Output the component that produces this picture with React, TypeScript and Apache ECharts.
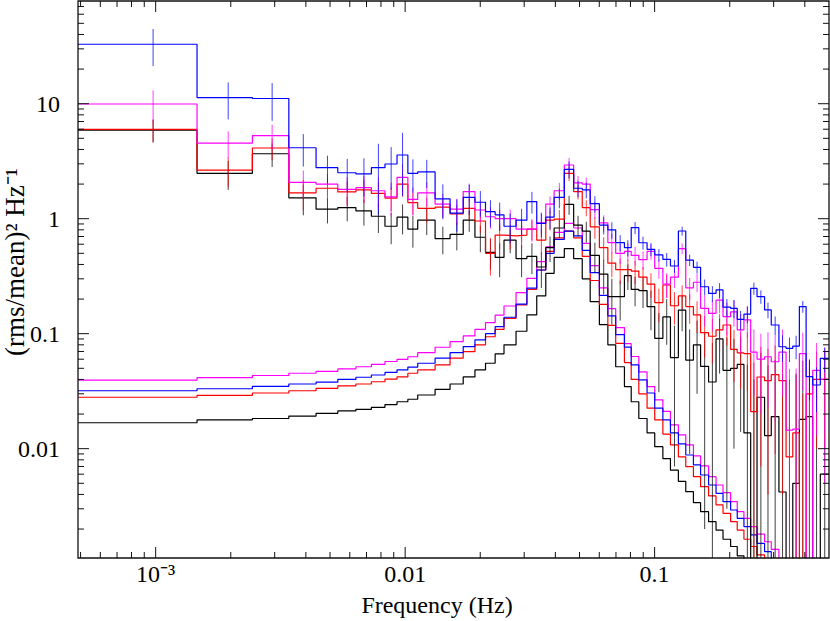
import React, { useEffect, useRef } from 'react';
import * as echarts from 'echarts';

// Frequency bin edges in units of the Fourier resolution (1/1024 Hz)
const binEdgesDf = [
  0.5, 1.5, 2.5, 3.5, 4.5, 5.5, 6.5, 7.5, 8.5, 9.5, 10.5, 11.5, 13.5, 15.5, 17.5, 19.5, 21.5, 23.5, 25.5,
  28.5, 31.5, 34.5, 37.5, 40.5, 44.5, 48.5, 52.5, 56.5, 61.5, 66.5, 71.5, 77.5, 82.5, 88.5, 95.5, 102.5,
  110.5, 118.5, 127.5, 136.5, 146.5, 156.5, 168.5, 180.5, 192.5, 206.5, 219.5, 233.5, 248.5, 263.5, 282.5,
  300.5, 322.5, 344.5, 366.5, 389.5, 414.5, 440.5, 472.5, 512,
];
const FREQ_RES = 1 / 1024;

// Power per bin ((rms/mean)^2 / Hz); 1e-6 marks bins with no positive power
const bluePower = [32.9, 11.3, 11.1, 4.14, 2.78, 2.51, 2.45, 2.78, 2.99, 3.58, 2.48, 2.55, 1.49, 1.12, 1.53, 1.39, 1.15, 1.08, 0.86, 0.97, 1.41, 0.91, 1.03, 1.53, 2.69, 1.84, 1.78, 1.35, 0.88, 0.80, 0.62, 0.56, 0.835, 0.618, 0.542, 0.484, 0.443, 0.388, 0.782, 0.437, 0.378, 0.256, 0.224, 0.24, 0.17, 0.166, 0.133, 0.148, 0.248, 0.21, 0.161, 0.119, 0.077, 0.0746, 0.078, 0.172, 0.0423, 0.0358, 0.061];
const blueErr = [11.7, 4.0, 4.0, 1.3, 0.75, 0.8, 0.9, 1.7, 1.2, 2.0, 0.8, 0.7, 0.5, 0.35, 0.45, 0.35, 0.3, 0.3, 0.25, 0.25, 0.3, 0.22, 0.22, 0.3, 0.45, 0.3, 0.28, 0.22, 0.15, 0.13, 0.1, 0.09, 0.1, 0.08, 0.07, 0.06, 0.06, 0.05, 0.07, 0.05, 0.045, 0.04, 0.035, 0.035, 0.03, 0.03, 0.025, 0.025, 0.03, 0.028, 0.025, 0.022, 0.02, 0.018, 0.018, 0.02, 0.016, 0.015, 0.015];
const blueModel = [0.0319, 0.0332, 0.0348, 0.0365, 0.0379, 0.040, 0.0418, 0.0437, 0.046, 0.0484, 0.0512, 0.0553, 0.0612, 0.0685, 0.0772, 0.0883, 0.10, 0.115, 0.139, 0.181, 0.249, 0.358, 0.50, 0.66, 0.78, 0.71, 0.53, 0.34, 0.215, 0.143, 0.098, 0.0763, 0.0535, 0.0397, 0.0305, 0.0225, 0.0178, 0.0137, 0.011, 0.00881, 0.00722, 0.0059, 0.00483, 0.00409, 0.00346, 0.00293, 0.00248, 0.0021, 0.00178, 0.0015, 0.00127, 0.00108, 0.0009, 0.00076, 0.00064, 0.00054, 0.00046, 0.00039, 0.00033];

const magentaPower = [9.94, 4.55, 5.27, 2.07, 2.0, 1.8, 1.86, 1.75, 1.55, 2.29, 1.47, 1.68, 1.34, 1.21, 1.72, 1.19, 1.04, 1.0, 1.0, 0.81, 0.81, 0.92, 1.34, 1.75, 2.93, 2.05, 2.0, 1.2, 0.92, 0.62, 0.50, 0.52, 0.48, 0.44, 0.52, 0.37, 0.27, 0.31, 0.55, 0.25, 0.28, 0.166, 0.15, 0.196, 0.141, 0.155, 0.108, 0.132, 0.069, 0.06, 0.063, 0.057, 0.069, 0.0145, 0.0148, 0.067, 1e-6, 0.048, 0.04];
const magentaErr = [3.1, 1.2, 1.3, 0.55, 0.45, 0.5, 0.5, 0.55, 0.5, 0.7, 0.4, 0.4, 0.3, 0.28, 0.3, 0.25, 0.22, 0.2, 0.2, 0.18, 0.18, 0.18, 0.22, 0.3, 0.45, 0.3, 0.28, 0.2, 0.15, 0.12, 0.1, 0.09, 0.09, 0.08, 0.08, 0.07, 0.065, 0.06, 0.06, 0.055, 0.05, 0.05, 0.045, 0.045, 0.045, 0.04, 0.04, 0.04, 0.04, 0.04, 0.04, 0.04, 0.04, 0.035, 0.035, 0.035, 0.035, 0.035, 0.035];
const magentaModel = [0.0395, 0.0414, 0.0433, 0.0453, 0.0470, 0.0494, 0.0516, 0.0541, 0.0573, 0.0597, 0.063, 0.0685, 0.0762, 0.0852, 0.0957, 0.109, 0.125, 0.145, 0.174, 0.228, 0.303, 0.423, 0.57, 0.76, 0.91, 0.83, 0.61, 0.39, 0.25, 0.165, 0.113, 0.082, 0.0633, 0.0465, 0.0347, 0.0266, 0.0211, 0.0161, 0.0132, 0.0108, 0.00865, 0.00708, 0.00571, 0.00483, 0.00414, 0.00346, 0.00283, 0.00248, 0.0021, 0.00181, 0.00155, 0.00133, 0.00108, 0.0009, 0.00076, 0.00064, 0.00054, 0.00046, 0.00038];

const redPower = [5.99, 2.65, 4.12, 1.68, 1.84, 1.71, 1.78, 1.66, 1.51, 2.0, 1.38, 1.23, 1.26, 1.10, 1.23, 0.955, 0.5, 0.72, 0.71, 0.72, 0.81, 0.65, 0.97, 0.99, 2.48, 1.72, 1.25, 0.85, 0.56, 0.41, 0.36, 0.36, 0.35, 0.31, 0.27, 0.186, 0.265, 0.175, 0.213, 0.172, 0.146, 0.102, 0.095, 0.108, 0.119, 0.073, 0.068, 0.067, 0.021, 0.042, 0.039, 0.044, 0.039, 0.0085, 0.0137, 1e-6, 0.03, 0.04, 0.04];
const redErr = [1.35, 0.75, 0.9, 0.5, 0.4, 0.4, 0.4, 0.4, 0.35, 0.45, 0.3, 0.3, 0.25, 0.22, 0.25, 0.2, 0.18, 0.18, 0.17, 0.16, 0.16, 0.16, 0.18, 0.2, 0.35, 0.25, 0.2, 0.18, 0.13, 0.1, 0.09, 0.08, 0.08, 0.07, 0.065, 0.06, 0.06, 0.055, 0.05, 0.05, 0.045, 0.04, 0.04, 0.04, 0.04, 0.035, 0.035, 0.035, 0.035, 0.035, 0.035, 0.035, 0.035, 0.03, 0.03, 0.03, 0.03, 0.03, 0.03];
const redModel = [0.028, 0.0291, 0.0305, 0.0319, 0.0335, 0.0352, 0.0365, 0.0382, 0.0403, 0.0421, 0.0453, 0.0484, 0.0535, 0.0612, 0.0697, 0.08, 0.094, 0.109, 0.136, 0.178, 0.243, 0.358, 0.52, 0.68, 0.78, 0.68, 0.47, 0.29, 0.18, 0.118, 0.0825, 0.0561, 0.04, 0.03, 0.0225, 0.0178, 0.0134, 0.0108, 0.0085, 0.00697, 0.00571, 0.00467, 0.00388, 0.00324, 0.00274, 0.00232, 0.00196, 0.00163, 0.00141, 0.00119, 0.001, 0.00085, 0.00072, 0.00061, 0.00052, 0.00044, 0.00037, 0.00031, 0.00026];

const blackPower = [5.9, 2.48, 3.67, 1.52, 1.21, 1.25, 1.17, 1.05, 0.86, 1.03, 0.81, 0.97, 0.67, 0.73, 0.97, 0.69, 0.51, 0.46, 0.65, 0.45, 0.47, 0.38, 0.56, 0.83, 1.33, 0.88, 0.78, 0.48, 0.33, 0.21, 0.21, 0.32, 0.243, 0.237, 0.172, 0.091, 0.14, 0.062, 0.16, 0.059, 0.08, 0.052, 0.038, 0.09, 0.048, 0.05, 0.054, 0.0137, 1e-6, 0.028, 0.013, 0.019, 0.0042, 1e-6, 0.005, 0.018, 0.019, 1e-6, 0.006];
const blackErr = [1.3, 0.7, 0.85, 0.45, 0.3, 0.3, 0.3, 0.3, 0.26, 0.3, 0.25, 0.25, 0.18, 0.2, 0.2, 0.18, 0.15, 0.15, 0.15, 0.14, 0.14, 0.13, 0.14, 0.15, 0.25, 0.18, 0.16, 0.14, 0.11, 0.09, 0.08, 0.08, 0.07, 0.07, 0.065, 0.06, 0.06, 0.055, 0.055, 0.05, 0.05, 0.05, 0.045, 0.045, 0.045, 0.04, 0.04, 0.04, 0.04, 0.04, 0.04, 0.04, 0.04, 0.04, 0.04, 0.04, 0.04, 0.04, 0.04];
const blackModel = [0.0168, 0.0178, 0.0183, 0.0192, 0.0203, 0.0213, 0.022, 0.0229, 0.0242, 0.0256, 0.0269, 0.0293, 0.0328, 0.0365, 0.0421, 0.0484, 0.0553, 0.0668, 0.08, 0.105, 0.146, 0.213, 0.335, 0.46, 0.55, 0.45, 0.30, 0.19, 0.12, 0.08, 0.0516, 0.0347, 0.0256, 0.0183, 0.0137, 0.0104, 0.0082, 0.0065, 0.0052, 0.00423, 0.00339, 0.00283, 0.00232, 0.00196, 0.00163, 0.00141, 0.00117, 0.00098, 0.00083, 0.0007, 0.0006, 0.00051, 0.00043, 0.00037, 0.00031, 0.00027, 0.00023, 0.00019, 0.00016];

const xMajorTicks = [0.001, 0.01, 0.1];
const xTickLabels = ['10⁻³', '0.01', '0.1'];
const yMajorTicks = [0.01, 0.1, 1, 10];
const yTickLabels = ['0.01', '0.1', '1', '10'];

const X_MIN = 1 / 2048;
const X_MAX = 0.5;
const Y_MIN = 0.00112;
const Y_MAX = 78.2;
const FONT_FAMILY = 'Liberation Serif';

function minorTicks(min: number, max: number) {
  const out: number[] = [];
  for (let d = -5; d <= 3; d++) {
    for (let m = 2; m <= 9; m++) {
      const v = m * Math.pow(10, d);
      if (v > min && v < max) out.push(v);
    }
  }
  return out;
}

function stepData(values: number[]) {
  const edges = binEdgesDf.map((e) => e * FREQ_RES);
  const pts = values.map((v, i) => [edges[i], v]);
  pts.push([edges[edges.length - 1], values[values.length - 1]]);
  return pts;
}

function errData(values: number[], errs: number[]) {
  return values.map((v, i) => {
    const c = ((binEdgesDf[i] + binEdgesDf[i + 1]) / 2) * FREQ_RES;
    const lo = v - errs[i];
    return [c, lo > Y_MIN ? lo : Y_MIN, Math.min(v + errs[i], Y_MAX)];
  });
}

function stepSeries(name: string, values: number[], color: string, z: number) {
  return {
    type: 'line',
    name,
    data: stepData(values),
    step: 'end',
    symbol: 'none',
    showSymbol: false,
    silent: true,
    clip: true,
    z,
    lineStyle: { color, width: 1.2 },
  };
}

function errSeries(name: string, values: number[], errs: number[], color: string, z: number) {
  return {
    type: 'custom',
    name,
    coordinateSystem: 'cartesian2d',
    silent: true,
    z,
    data: errData(values, errs),
    encode: { x: 0, y: [1, 2] },
    renderItem: (_params: any, api: any) => {
      const xc = api.value(0);
      const p1 = api.coord([xc, api.value(1)]);
      const p2 = api.coord([xc, api.value(2)]);
      return {
        type: 'line',
        shape: { x1: p1[0], y1: p1[1], x2: p2[0], y2: p2[1] },
        style: { stroke: color, lineWidth: 1, opacity: 0.75 },
      };
    },
  };
}

function textStyle(text: string, size: number, align: string) {
  return {
    text,
    fontFamily: FONT_FAMILY,
    fontSize: size,
    fill: '#000',
    align,
    verticalAlign: 'middle',
  };
}

function frameSeries() {
  const xMinor = minorTicks(X_MIN, X_MAX);
  const yMinor = minorTicks(Y_MIN, Y_MAX);
  return {
    type: 'custom',
    coordinateSystem: 'cartesian2d',
    silent: true,
    z: 20,
    data: [[X_MIN, Y_MIN]],
    renderItem: (_params: any, api: any) => {
      const children: any[] = [];
      const bl = api.coord([X_MIN, Y_MIN]);
      const tr = api.coord([X_MAX, Y_MAX]);
      const left = bl[0];
      const bottom = bl[1];
      const right = tr[0];
      const top = tr[1];
      const seg = (x1: number, y1: number, x2: number, y2: number) =>
        children.push({ type: 'line', shape: { x1, y1, x2, y2 }, style: { stroke: '#111', lineWidth: 1 } });
      children.push({
        type: 'rect',
        shape: { x: left, y: top, width: right - left, height: bottom - top },
        style: { fill: 'transparent', stroke: '#111', lineWidth: 1.3 },
      });
      xMajorTicks.forEach((v, i) => {
        const x = api.coord([v, Y_MIN])[0];
        seg(x, bottom, x, bottom - 11);
        seg(x, top, x, top + 11);
        children.push({ type: 'text', x, y: bottom + 16, style: textStyle(xTickLabels[i], 24, 'center') });
      });
      xMinor.forEach((v) => {
        const x = api.coord([v, Y_MIN])[0];
        seg(x, bottom, x, bottom - 6);
        seg(x, top, x, top + 6);
      });
      yMajorTicks.forEach((v, i) => {
        const y = api.coord([X_MIN, v])[1];
        seg(left, y, left + 11, y);
        seg(right, y, right - 11, y);
        children.push({ type: 'text', x: left - 18, y, style: textStyle(yTickLabels[i], 24, 'right') });
      });
      yMinor.forEach((v) => {
        const y = api.coord([X_MIN, v])[1];
        seg(left, y, left + 6, y);
        seg(right, y, right - 6, y);
      });
      return { type: 'group', children };
    },
  };
}

const palette = [
  { name: 'black', color: '#000000', power: blackPower, err: blackErr, model: blackModel },
  { name: 'red', color: '#ff0000', power: redPower, err: redErr, model: redModel },
  { name: 'magenta', color: '#ff00ff', power: magentaPower, err: magentaErr, model: magentaModel },
  { name: 'blue', color: '#0000ff', power: bluePower, err: blueErr, model: blueModel },
];

export default function App() {
  const ref = useRef<HTMLDivElement>(null);
  useEffect(() => {
    if (!ref.current) return;
    const chart = echarts.init(ref.current, null, { renderer: 'svg' });
    const series: any[] = [];
    palette.forEach((p, i) => {
      series.push(stepSeries(p.name + ' model', p.model, p.color, 2 + i));
    });
    palette.forEach((p, i) => {
      series.push(stepSeries(p.name + ' data', p.power, p.color, 6 + i));
      series.push(errSeries(p.name + ' errors', p.power, p.err, p.color, 6 + i));
    });
    series.push(frameSeries());
    chart.setOption({
      animation: false,
      backgroundColor: '#ffffff',
      textStyle: { fontFamily: FONT_FAMILY },
      grid: { left: 78, right: 1, top: 1, bottom: 63, containLabel: false },
      xAxis: {
        type: 'log',
        logBase: 10,
        min: X_MIN,
        max: X_MAX,
        axisLine: { show: false },
        axisTick: { show: false },
        axisLabel: { show: false },
        splitLine: { show: false },
      },
      yAxis: {
        type: 'log',
        logBase: 10,
        min: Y_MIN,
        max: Y_MAX,
        axisLine: { show: false },
        axisTick: { show: false },
        axisLabel: { show: false },
        splitLine: { show: false },
      },
      graphic: [
        {
          type: 'text',
          x: 437,
          y: 605,
          style: textStyle('Frequency (Hz)', 24, 'center'),
        },
        {
          type: 'text',
          x: 15,
          y: 262,
          rotation: Math.PI / 2,
          style: textStyle('(rms/mean)² Hz⁻¹', 27, 'center'),
        },
      ],
      series,
    });
    return () => chart.dispose();
  }, []);
  return (
    <div
      ref={ref}
      style={{ position: 'fixed', left: 0, top: 0, width: 830, height: 621, background: '#fff' }}
    />
  );
}
